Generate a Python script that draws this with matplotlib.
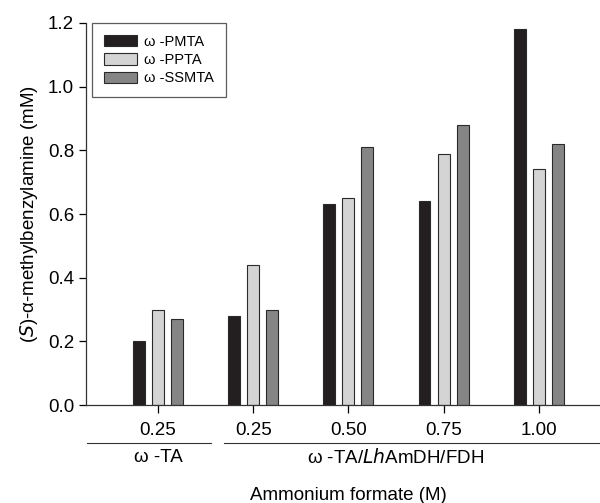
import numpy as np
import matplotlib
matplotlib.use("Agg")
import matplotlib.pyplot as plt

plt.rcParams['font.family'] = ['Liberation Sans', 'DejaVu Sans']

# data
tick_labels = ["0.25", "0.25", "0.50", "0.75", "1.00"]
series_names = ["\u03c9 -PMTA", "\u03c9 -PPTA", "\u03c9 -SSMTA"]
pmta = [0.20, 0.28, 0.63, 0.64, 1.18]
ppta = [0.30, 0.44, 0.65, 0.79, 0.74]
ssmta = [0.27, 0.30, 0.81, 0.88, 0.82]
group_names = ["\u03c9 -TA", "\u03c9 -TA/$\\mathit{Lh}$AmDH/FDH"]
group_spans = [(0, 0), (1, 4)]

colors = ["#231f20", "#d4d4d4", "#858585"]
fs = 13.5

fig = plt.figure(figsize=(6, 5.03), dpi=100)
ax = fig.add_axes([0.1433, 0.1948, 0.8567, 0.7595])

x = np.arange(len(tick_labels))
width = 0.125
offsets = [-0.2, 0.0, 0.2]
for vals, off, col, name in zip([pmta, ppta, ssmta], offsets, colors, series_names):
    ax.bar(x + off, vals, width, color=col, edgecolor="#2a2a2a", linewidth=0.8, label=name)

ax.set_xlim(-0.756, 4.643)
ax.set_ylim(0, 1.2)
yt = np.arange(0, 1.21, 0.2)
ax.set_yticks(yt)
ax.set_yticklabels(["%.1f" % v for v in yt], fontsize=fs)
ax.set_xticks(x)
ax.set_xticklabels(tick_labels, fontsize=fs)
ax.tick_params(axis='y', direction='out', length=5, width=0.9, pad=3.5)
ax.tick_params(axis='x', direction='out', length=6, width=0.9, pad=6.5)
for s in ['top', 'right']:
    ax.spines[s].set_visible(False)
for s in ['left', 'bottom']:
    ax.spines[s].set_linewidth(0.9)
    ax.spines[s].set_color("#333333")

ax.set_ylabel("($\\mathit{S}$)-\u03b1-methylbenzylamine (mM)", fontsize=fs, labelpad=6)
fig.text(348 / 600, 1 - 495 / 503, "Ammonium formate (M)", fontsize=fs,
         ha='center', va='center')

# group brackets under the tick labels
trans = ax.get_xaxis_transform()
bracket_x = [(-0.745, 0.557), (0.693, 4.643)]
for (a, b), (l, r), name in zip(group_spans, bracket_x, group_names):
    ax.plot([l, r], [-0.0995, -0.0995], transform=trans, color="#333333",
            linewidth=0.8, clip_on=False)
    ax.text((a + b) / 2, -0.137, name, transform=trans, ha='center', va='center', fontsize=fs)

leg = ax.legend(loc='upper left', bbox_to_anchor=(0.0117, 1.0), fontsize=10.5, frameon=True,
                fancybox=False, edgecolor="#333333", handlelength=2.3, handleheight=0.8,
                handletextpad=0.5, labelspacing=0.3, borderpad=0.8, borderaxespad=0)
leg.get_frame().set_linewidth(0.9)

fig.savefig("out.png", dpi=100)
